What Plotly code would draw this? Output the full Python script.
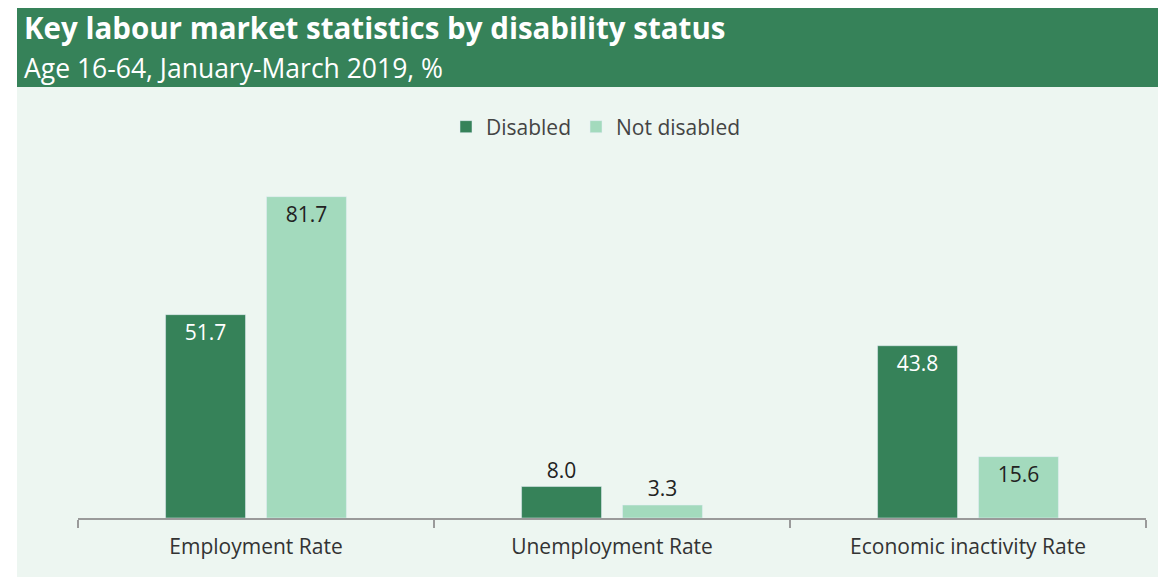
import plotly.graph_objects as go

categories = ["Employment Rate", "Unemployment Rate", "Economic inactivity Rate"]
disabled = [51.7, 8.0, 43.8]
not_disabled = [81.7, 3.3, 15.6]
label_pos = ["inside", "outside", "inside"]

DARK = "#368259"
LIGHT = "#a3dabd"
BG = "#edf6f1"
TEXT = "#333333"
FONT = "Open Sans"

fig = go.Figure()
fig.add_trace(go.Bar(
    name="Disabled", x=categories, y=disabled, marker_color=DARK,
    texttemplate="%{y:.1f}", textposition=label_pos, insidetextanchor="end",
    insidetextfont=dict(color="white", size=21, family=FONT),
    outsidetextfont=dict(color="#222222", size=21, family=FONT),
    cliponaxis=False,
))
fig.add_trace(go.Bar(
    name="Not disabled", x=categories, y=not_disabled, marker_color=LIGHT,
    texttemplate="%{y:.1f}", textposition=label_pos, insidetextanchor="end",
    insidetextfont=dict(color="#222222", size=21, family=FONT),
    outsidetextfont=dict(color="#222222", size=21, family=FONT),
    cliponaxis=False,
))

# page has an 8px body margin; reference pixel coords -> figure
OFF = 8
W, H = 1166 - OFF, 577 - OFF
L, R, T, B = 78, 1146, 164, 518   # plot area in reference pixels
def px(x):
    return (x - L) / (R - L)
def py(y):
    return (B - y) / (B - T)

fig.update_layout(
    width=W, height=H,
    margin=dict(l=L - OFF, r=W - (R - OFF), t=T - OFF, b=H - (B - OFF), pad=0),
    paper_bgcolor="white", plot_bgcolor="rgba(0,0,0,0)",
    barmode="group", bargap=0.433, bargroupgap=0.208,
    font=dict(family=FONT, color=TEXT, size=20),
    showlegend=True,
    legend=dict(orientation="h", x=px(596), xanchor="center", y=py(127), yanchor="middle",
                font=dict(size=21, color="#444444", family=FONT),
                itemwidth=30, traceorder="normal", bgcolor="rgba(0,0,0,0)"),
    xaxis=dict(showline=True, linecolor="#9a9a9a", linewidth=1.5,
               ticks="outside", tickson="boundaries", ticklen=8, tickcolor="#9a9a9a",
               tickwidth=1.5, tickfont=dict(size=21, color=TEXT, family=FONT),
               ticklabelstandoff=9,
               showgrid=False, fixedrange=True),
    yaxis=dict(range=[0, 90], visible=False, showgrid=False, zeroline=False),
    shapes=[
        dict(type="rect", xref="paper", yref="paper", layer="below",
             x0=px(17), x1=px(1160), y0=py(577), y1=py(87),
             fillcolor=BG, line=dict(width=0)),
        dict(type="rect", xref="paper", yref="paper", layer="below",
             x0=px(17), x1=px(1160), y0=py(87), y1=py(6),
             fillcolor=DARK, line=dict(width=0)),
    ],
    annotations=[
        dict(text="<b>Key labour market statistics by disability status</b>",
             xref="paper", yref="paper", x=px(22), y=py(27), xanchor="left", yanchor="middle",
             showarrow=False, font=dict(size=29.5, color="white", family=FONT)),
        dict(text="Age 16-64, January-March 2019, %",
             xref="paper", yref="paper", x=px(22), y=py(68), xanchor="left", yanchor="middle",
             showarrow=False, font=dict(size=26.5, color="white", family=FONT)),
    ],
)

fig.write_html("out.html")
